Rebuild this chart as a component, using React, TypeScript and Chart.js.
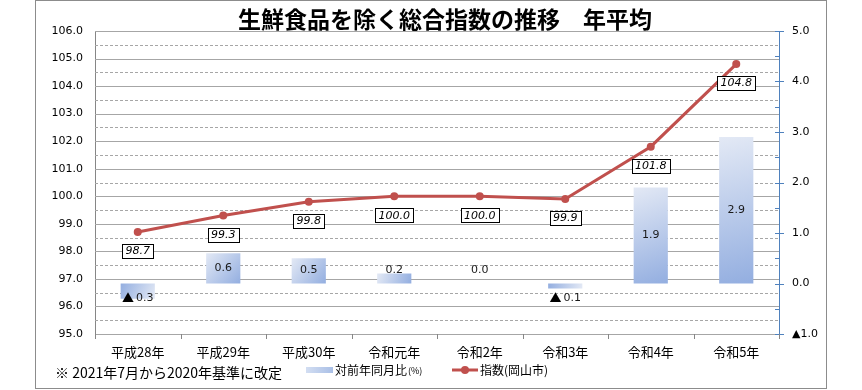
import React, { useEffect, useRef } from 'react';
import { Chart, registerables } from 'chart.js';

Chart.register(...registerables);

const categories = ['平成28年', '平成29年', '平成30年', '令和元年', '令和2年', '令和3年', '令和4年', '令和5年'];
const yoyChange = [-0.3, 0.6, 0.5, 0.2, 0.0, -0.1, 1.9, 2.9];
const indexValues = [98.7, 99.3, 99.8, 100.0, 100.0, 99.9, 101.8, 104.8];
const leftMin = 95;
const leftMax = 106;
const rightMin = -1;
const rightMax = 5;
const titleText = '生鮮食品を除く総合指数の推移　年平均';
const noteText = '※ 2021年7月から2020年基準に改定';
const barLegend = '対前年同月比';
const barLegendUnit = '(%)';
const lineLegend = '指数(岡山市)';

const JP = "'Noto Sans CJK JP', 'Noto Sans', sans-serif";
const NUM = "'DejaVu Sans', sans-serif";
const LINE_COLOR = '#c0504d';
const GRID_COLOR = '#a6a6a6';
const BAR_DARK = '#93aee0';
const BAR_LIGHT = '#e3e9f5';

const fmtSigned = (v: number) => (v < 0 ? '▲' + Math.abs(v).toFixed(1) : v.toFixed(1));

const decorPlugin = {
  id: 'decor',
  beforeDraw(chart: any) {
    const { ctx, width, height } = chart;
    ctx.save();
    ctx.fillStyle = '#fff';
    ctx.fillRect(0, 0, width, height);
    ctx.strokeStyle = '#8c8c8c';
    ctx.lineWidth = 1;
    ctx.strokeRect(35.5, 0.5, 791, 388);
    ctx.fillStyle = '#000';
    ctx.font = `bold 23px ${JP}`;
    ctx.textAlign = 'center';
    ctx.textBaseline = 'middle';
    ctx.fillText(titleText, 445, 19);
    ctx.restore();
  },
  beforeDatasetsDraw(chart: any) {
    const { ctx, chartArea } = chart;
    const y = chart.scales.y;
    const y2 = chart.scales.y2;
    const x = chart.scales.x;
    ctx.save();
    ctx.lineWidth = 1;
    ctx.strokeStyle = GRID_COLOR;
    for (let v = leftMin; v <= leftMax + 1e-9; v += 0.5) {
      const py = Math.round(y.getPixelForValue(v)) + 0.5;
      const isMajor = Math.abs(v - Math.round(v)) < 1e-6;
      ctx.setLineDash(isMajor ? [] : [3, 2]);
      ctx.beginPath();
      ctx.moveTo(chartArea.left, py);
      ctx.lineTo(chartArea.right, py);
      ctx.stroke();
    }
    ctx.setLineDash([]);
    // right axis ticks
    ctx.strokeStyle = '#4f81bd';
    for (let v = rightMin; v <= rightMax + 1e-9; v += 0.5) {
      const py = Math.round(y2.getPixelForValue(v)) + 0.5;
      const isMajor = Math.abs(v - Math.round(v)) < 1e-6;
      ctx.beginPath();
      ctx.moveTo(chartArea.right - 4, py);
      ctx.lineTo(chartArea.right + (isMajor ? 5 : 0), py);
      ctx.stroke();
    }
    // x axis tick marks at category boundaries
    ctx.strokeStyle = '#868686';
    const n = categories.length;
    const step = (chartArea.right - chartArea.left) / n;
    for (let k = 0; k <= n; k++) {
      const px = Math.round(chartArea.left + k * step) + 0.5;
      ctx.beginPath();
      ctx.moveTo(px, chartArea.bottom);
      ctx.lineTo(px, chartArea.bottom + 5);
      ctx.stroke();
    }
    ctx.restore();
    void x;
  },
  afterDatasetsDraw(chart: any) {
    const { ctx } = chart;
    const y2 = chart.scales.y2;
    const barMeta = chart.getDatasetMeta(0);
    const lineMeta = chart.getDatasetMeta(1);
    const zeroY = y2.getPixelForValue(0);
    ctx.save();
    // bar labels
    ctx.textBaseline = 'middle';
    yoyChange.forEach((v, i) => {
      const el = barMeta.data[i];
      const cx = el.x;
      if (v >= 0) {
        const center = (el.y + zeroY) / 2;
        const ly = Math.min(center, zeroY - 13);
        ctx.font = `11px ${NUM}`;
        ctx.fillStyle = '#1a1a1a';
        ctx.textAlign = 'center';
        ctx.fillText(v.toFixed(1), cx, ly);
      } else {
        const ly = zeroY + 15;
        const num = Math.abs(v).toFixed(1);
        ctx.font = `12px ${JP}`;
        const tw = ctx.measureText('▲').width;
        ctx.font = `11px ${NUM}`;
        const nw = ctx.measureText(num).width;
        const total = tw + 2 + nw;
        const sx = cx - total / 2;
        ctx.fillStyle = '#000';
        ctx.textAlign = 'left';
        ctx.font = `12px ${JP}`;
        ctx.fillText('▲', sx, ly);
        ctx.font = `11px ${NUM}`;
        ctx.fillStyle = '#1a1a1a';
        ctx.fillText(num, sx + tw + 2, ly);
      }
    });
    // line labels
    indexValues.forEach((v, i) => {
      const el = lineMeta.data[i];
      const txt = v.toFixed(1);
      ctx.font = `italic 11px ${NUM}`;
      const w = ctx.measureText(txt).width + 7;
      const h = 14;
      const cx = el.x;
      const cy = el.y + 19;
      const bx = Math.round(cx - w / 2) + 0.5;
      const by = Math.round(cy - h / 2) + 0.5;
      ctx.fillStyle = '#fff';
      ctx.fillRect(bx, by, Math.round(w), h);
      ctx.strokeStyle = '#000';
      ctx.lineWidth = 1;
      ctx.strokeRect(bx, by, Math.round(w), h);
      ctx.fillStyle = '#000';
      ctx.textAlign = 'center';
      ctx.fillText(txt, cx, cy + 0.5);
    });
    ctx.restore();
  },
  afterDraw(chart: any) {
    const { ctx } = chart;
    ctx.save();
    ctx.textBaseline = 'middle';
    ctx.textAlign = 'left';
    // note
    ctx.fillStyle = '#000';
    ctx.font = `14px ${JP}`;
    ctx.fillText(noteText, 55, 373);
    // bar legend swatch
    const g = ctx.createLinearGradient(306, 0, 333, 0);
    g.addColorStop(0, '#d3def2');
    g.addColorStop(1, '#a9bfe6');
    ctx.fillStyle = g;
    ctx.fillRect(306, 367, 27, 6);
    ctx.fillStyle = '#000';
    ctx.font = `12px ${JP}`;
    ctx.fillText(barLegend, 335, 370);
    const bw = ctx.measureText(barLegend).width;
    ctx.font = `9px ${JP}`;
    ctx.fillText(barLegendUnit, 335 + bw + 1, 371);
    // line legend
    ctx.strokeStyle = LINE_COLOR;
    ctx.lineWidth = 3;
    ctx.beginPath();
    ctx.moveTo(452, 370);
    ctx.lineTo(478, 370);
    ctx.stroke();
    ctx.fillStyle = LINE_COLOR;
    ctx.beginPath();
    ctx.arc(465, 370, 4, 0, Math.PI * 2);
    ctx.fill();
    ctx.fillStyle = '#000';
    ctx.font = `12px ${JP}`;
    ctx.fillText(lineLegend, 480, 370);
    ctx.restore();
  },
};

function barGradient(c: any) {
  const chart = c.chart;
  if (c.type !== 'data') return BAR_DARK;
  const s = chart.scales?.y2;
  const xs = chart.scales?.x;
  if (!s || !xs || !chart.chartArea) return BAR_DARK;
  const i = c.dataIndex;
  const v = yoyChange[i];
  const y0 = s.getPixelForValue(0);
  const yt = s.getPixelForValue(v);
  const cx = xs.getPixelForValue(i);
  const half = ((chart.chartArea.right - chart.chartArea.left) / categories.length) * 0.4 / 2;
  if (![y0, yt, cx, half].every((n) => Number.isFinite(n))) return BAR_DARK;
  let g;
  if (v >= 0) {
    g = chart.ctx.createLinearGradient(cx - half, yt, cx + half, y0);
    g.addColorStop(0, BAR_LIGHT);
    g.addColorStop(1, BAR_DARK);
  } else {
    g = chart.ctx.createLinearGradient(cx - half, y0, cx + half, yt);
    g.addColorStop(0, BAR_DARK);
    g.addColorStop(1, BAR_LIGHT);
  }
  return g;
}

export default function App() {
  const ref = useRef<HTMLCanvasElement | null>(null);
  useEffect(() => {
    if (!ref.current) return;
    const chart = new Chart(ref.current, {
      type: 'bar',
      data: {
        labels: categories,
        datasets: [
          {
            type: 'bar',
            label: barLegend + barLegendUnit,
            data: yoyChange,
            yAxisID: 'y2',
            backgroundColor: barGradient as any,
            borderWidth: 0,
            categoryPercentage: 1,
            barPercentage: 0.4,
            order: 1,
          },
          {
            type: 'line',
            label: lineLegend,
            data: indexValues,
            yAxisID: 'y',
            borderColor: LINE_COLOR,
            backgroundColor: LINE_COLOR,
            borderWidth: 3,
            pointRadius: 4,
            pointBorderWidth: 0,
            pointBackgroundColor: LINE_COLOR,
            tension: 0,
            order: 0,
          } as any,
        ],
      },
      options: {
        responsive: false,
        animation: false,
        devicePixelRatio: 1,
        layout: { padding: { top: 31, left: 0, right: 0, bottom: 0 } },
        plugins: {
          legend: { display: false },
          title: { display: false },
          tooltip: { enabled: false },
        },
        scales: {
          x: {
            type: 'category',
            offset: true,
            grid: { display: false, drawTicks: false },
            border: { display: true, color: '#868686' },
            ticks: {
              font: { family: JP, size: 13 },
              color: '#000',
              padding: 10,
              maxRotation: 0,
              autoSkip: false,
            },
            afterFit: (s: any) => {
              s.height = 56;
            },
          },
          y: {
            position: 'left',
            min: leftMin,
            max: leftMax,
            ticks: {
              stepSize: 1,
              callback: (v: any) => Number(v).toFixed(1),
              font: { family: NUM, size: 11 },
              color: '#000',
              padding: 12,
            },
            grid: { display: false, drawTicks: false },
            border: { display: true, color: '#868686' },
            afterFit: (s: any) => {
              s.width = 95;
            },
          },
          y2: {
            position: 'right',
            min: rightMin,
            max: rightMax,
            ticks: {
              stepSize: 1,
              callback: (v: any) => fmtSigned(Number(v)),
              font: { family: NUM, size: 11 },
              color: '#000',
              padding: 13,
            },
            grid: { display: false, drawTicks: false },
            border: { display: true, color: '#4f81bd' },
            afterFit: (s: any) => {
              s.width = 83;
            },
          },
        },
      } as any,
      plugins: [decorPlugin],
    });
    return () => chart.destroy();
  }, []);
  return (
    <div style={{ position: 'fixed', left: 0, top: 0, width: 862, height: 390, background: '#fff' }}>
      <canvas ref={ref} width={862} height={390} style={{ display: 'block', width: 862, height: 390 }} />
    </div>
  );
}
